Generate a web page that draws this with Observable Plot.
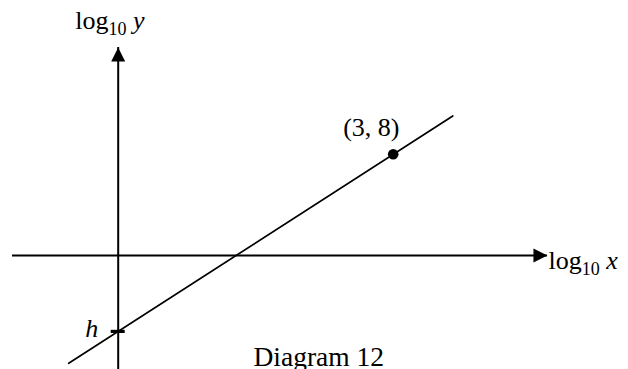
<!DOCTYPE html>
<html>
<head>
<meta charset="utf-8">
<script src="https://cdn.jsdelivr.net/npm/d3@7"></script>
<script src="https://cdn.jsdelivr.net/npm/@observablehq/plot@0.6"></script>
<style>
  html, body { margin: 0; padding: 0; background: #fff; }
  #chart svg { display: block; }
</style>
</head>
<body>
<div id="chart"></div>
<script>
// ---- data ----
const xAxisExtent = [-1.153, 4.683];   // horizontal axis (log10 x), arrow at right end
const yAxisExtent = [-9.1, 16.44];     // vertical axis (log10 y), arrow at top end
const pointX = [3];
const pointY = [8];
const pointLabel = ["(3, 8)"];
const interceptH = [-6];               // y-intercept h
const lineX = [-0.54, 3.65];           // ends of the straight line
const lineY = [-8.52, 11.03];
const axisLabels = ["log10 y", "log10 x"];
const caption = ["Diagram 12"];

const serif = "Liberation Serif, Times New Roman, serif";

// filled arrowhead, tip at origin, pointing up
const arrowHead = {
  draw(ctx) {
    ctx.moveTo(0, 0);
    ctx.lineTo(-7, 14);
    ctx.lineTo(7, 14);
    ctx.closePath();
  }
};

const chart = Plot.plot({
  width: 628,
  height: 369,
  margin: 0,
  x: {domain: [-1.284, 5.567], axis: null},
  y: {domain: [-9.012, 20.16], axis: null},
  style: {background: "#fff"},
  marks: [
    // axes
    Plot.ruleY([0], {x1: xAxisExtent[0], x2: xAxisExtent[1], stroke: "black", strokeWidth: 2}),
    Plot.ruleX([0], {y1: yAxisExtent[0], y2: yAxisExtent[1], stroke: "black", strokeWidth: 2}),
    Plot.dot([0], {x: () => 0, y: () => yAxisExtent[1], symbol: arrowHead, fill: "black", stroke: "none"}),
    Plot.dot([0], {x: () => xAxisExtent[1], y: () => 0, symbol: arrowHead, rotate: 90, fill: "black", stroke: "none"}),
    // straight line
    Plot.line(lineX.map((x, i) => ({x, y: lineY[i]})), {x: "x", y: "y", stroke: "black", strokeWidth: 1.7}),
    // tick at h
    Plot.ruleY(interceptH, {x1: 0, x2: 0, insetLeft: -7, insetRight: -7, stroke: "black", strokeWidth: 3.2}),
    Plot.text(interceptH, {x: () => 0, y: d => d, text: () => "h", fontStyle: "italic",
      textAnchor: "end", lineAnchor: "bottom", dx: -20, dy: 6, fontSize: 26, fontFamily: serif, fill: "black"}),
    // point (3, 8)
    Plot.dot(pointX.map((x, i) => ({x, y: pointY[i], label: pointLabel[i]})), {x: "x", y: "y", r: 5.3, fill: "black", stroke: "none"}),
    Plot.text(pointX.map((x, i) => ({x, y: pointY[i], label: pointLabel[i]})), {x: "x", y: "y", text: "label",
      textAnchor: "start", lineAnchor: "bottom", dx: -50, dy: -18, fontSize: 26, fontFamily: serif, fill: "black"}),
    // axis labels
    Plot.text([axisLabels[0]], {x: () => 0, y: () => yAxisExtent[1], text: d => d,
      textAnchor: "start", lineAnchor: "bottom", dx: -43, dy: -19, fontSize: 26, fontFamily: serif, fill: "black"}),
    Plot.text([axisLabels[1]], {x: () => xAxisExtent[1], y: () => 0, text: d => d,
      textAnchor: "start", lineAnchor: "bottom", dx: 1, dy: 13, fontSize: 26, fontFamily: serif, fill: "black"}),
    // caption
    Plot.text(caption, {frameAnchor: "bottom-left", text: d => d, textAnchor: "start", lineAnchor: "bottom",
      dx: 253, dy: -4, fontSize: 27.5, fontFamily: serif, fill: "black"})
  ]
});

// render the "10" of log10 as a subscript
d3.select(chart).selectAll("text").each(function () {
  const m = this.textContent.match(/^log10 ([xy])$/);
  if (!m) return;
  const t = d3.select(this);
  t.text(null);
  t.append("tspan").text("log");
  t.append("tspan").attr("font-size", 18).attr("dy", 6).text("10");
  t.append("tspan").attr("dy", -6).attr("font-style", "italic").text("\u00a0" + m[1]);
});

document.getElementById("chart").append(chart);
</script>
</body>
</html>
